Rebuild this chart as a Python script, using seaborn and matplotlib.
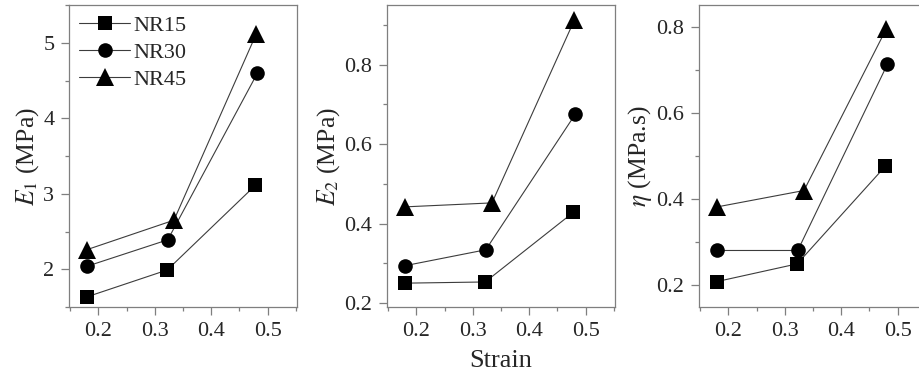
import matplotlib
matplotlib.use("Agg")
import matplotlib.pyplot as plt
from matplotlib.ticker import MultipleLocator
import seaborn as sns
import pandas as pd

sns.set_theme(style="white")
plt.rcParams["font.family"] = ["Liberation Serif", "DejaVu Serif"]
plt.rcParams["mathtext.fontset"] = "stix"

samples = ["NR15", "NR30", "NR45"]
markers = {"NR15": "s", "NR30": "o", "NR45": "^"}
msizes = {"NR15": 9.5, "NR30": 10.5, "NR45": 12.5}

strain = {
    "NR15": [0.180, 0.322, 0.478],
    "NR30": [0.180, 0.323, 0.482],
    "NR45": [0.180, 0.334, 0.480],
}
e1 = {
    "NR15": [1.635, 1.99, 3.11],
    "NR30": [2.04, 2.39, 4.60],
    "NR45": [2.26, 2.65, 5.12],
}
e2 = {
    "NR15": [0.250, 0.253, 0.428],
    "NR30": [0.294, 0.334, 0.676],
    "NR45": [0.442, 0.452, 0.912],
}
eta = {
    "NR15": [0.209, 0.250, 0.476],
    "NR30": [0.281, 0.281, 0.713],
    "NR45": [0.382, 0.420, 0.795],
}

panels = [
    (e1, r"$E_1$ (MPa)", (1.5, 5.5), 1.0, 0.5),
    (e2, r"$E_2$ (MPa)", (0.19, 0.95), 0.2, 0.1),
    (eta, r"$\eta$ (MPa.s)", (0.15, 0.85), 0.2, 0.1),
]
ax_lefts = [69, 387, 699]
W, H = 919, 381

fig = plt.figure(figsize=(W / 100, H / 100), dpi=100)
spine_col = "#7f7f7f"

for i, (vals, ylabel, ylim, major, minor) in enumerate(panels):
    ax = fig.add_axes([ax_lefts[i] / W, (H - 307) / H, 228 / W, 302 / H])
    for s in samples:
        df = pd.DataFrame({"strain": strain[s], "val": vals[s]})
        sns.lineplot(data=df, x="strain", y="val", ax=ax, color="#3c3c3c",
                     linewidth=0.8, marker=markers[s], markersize=msizes[s],
                     markerfacecolor="black", markeredgewidth=0,
                     label=s if i == 0 else None, sort=False)
    ax.set_xlim(0.148, 0.552)
    ax.set_ylim(*ylim)
    ax.xaxis.set_major_locator(MultipleLocator(0.1))
    ax.xaxis.set_minor_locator(MultipleLocator(0.05))
    ax.yaxis.set_major_locator(MultipleLocator(major))
    ax.yaxis.set_minor_locator(MultipleLocator(minor))
    ax.tick_params(which="both", direction="out", color=spine_col,
                   labelsize=16, bottom=True, left=True, top=False, right=False)
    ax.tick_params(which="major", length=6, width=0.9, pad=4.5)
    ax.tick_params(which="minor", length=3, width=0.9)
    for sp in ax.spines.values():
        sp.set_color(spine_col)
        sp.set_linewidth(0.9)
    ax.set_ylabel(ylabel, fontsize=18.5, labelpad=2)
    if i == 1:
        ax.set_xlabel("Strain", fontsize=19, labelpad=7)
    else:
        ax.set_xlabel("")
    if i == 0:
        ax.legend(loc="upper left", frameon=False, fontsize=16,
                  handlelength=2.3, handletextpad=0.15, labelspacing=0.3,
                  borderaxespad=0.2, borderpad=0.25)
    else:
        leg = ax.get_legend()
        if leg is not None:
            leg.remove()

fig.savefig("out.png", dpi=100)
